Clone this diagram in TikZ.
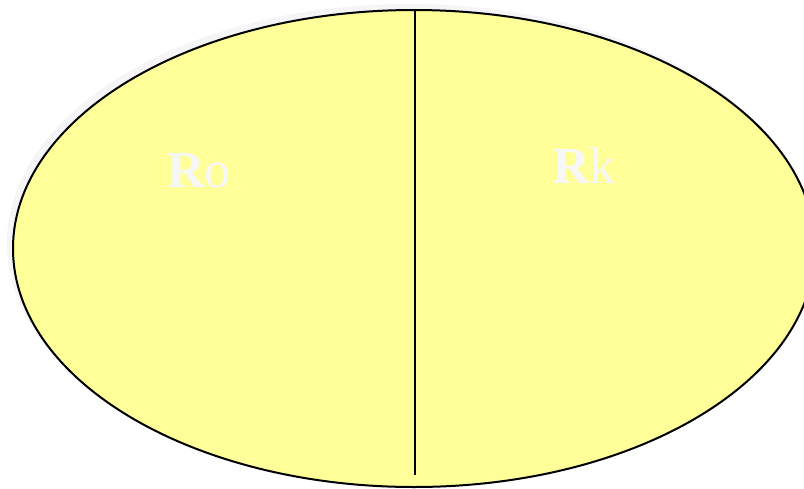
\documentclass[tikz,border=0pt]{standalone}
\usepackage{fontspec}
\setmainfont{Liberation Serif}
\definecolor{pale}{HTML}{FFFF99}
\definecolor{haze}{HTML}{F5F5F7}
\definecolor{chalk}{HTML}{F7F7F7}
\begin{document}
\begin{tikzpicture}[x=1pt,y=-1pt,
  lbl/.style={text=chalk,font=\fontsize{52}{60}\selectfont}]
\useasboundingbox (0,0) rectangle (804,488);
\fill[haze] (409,243) ellipse[x radius=402,y radius=239];
\draw[line width=2,fill=pale] (414,248.5) ellipse[x radius=401,y radius=238.5];
\coordinate (top) at (415,10);
\coordinate (bot) at (415,475);
\draw[line width=1.5] (top)--(bot);
\node[lbl,anchor=base] (ro) at (199,187) {{\bfseries R}o};
\node[lbl,anchor=base] (rk) at (584,183) {{\bfseries R}k};
\end{tikzpicture}
\end{document}
